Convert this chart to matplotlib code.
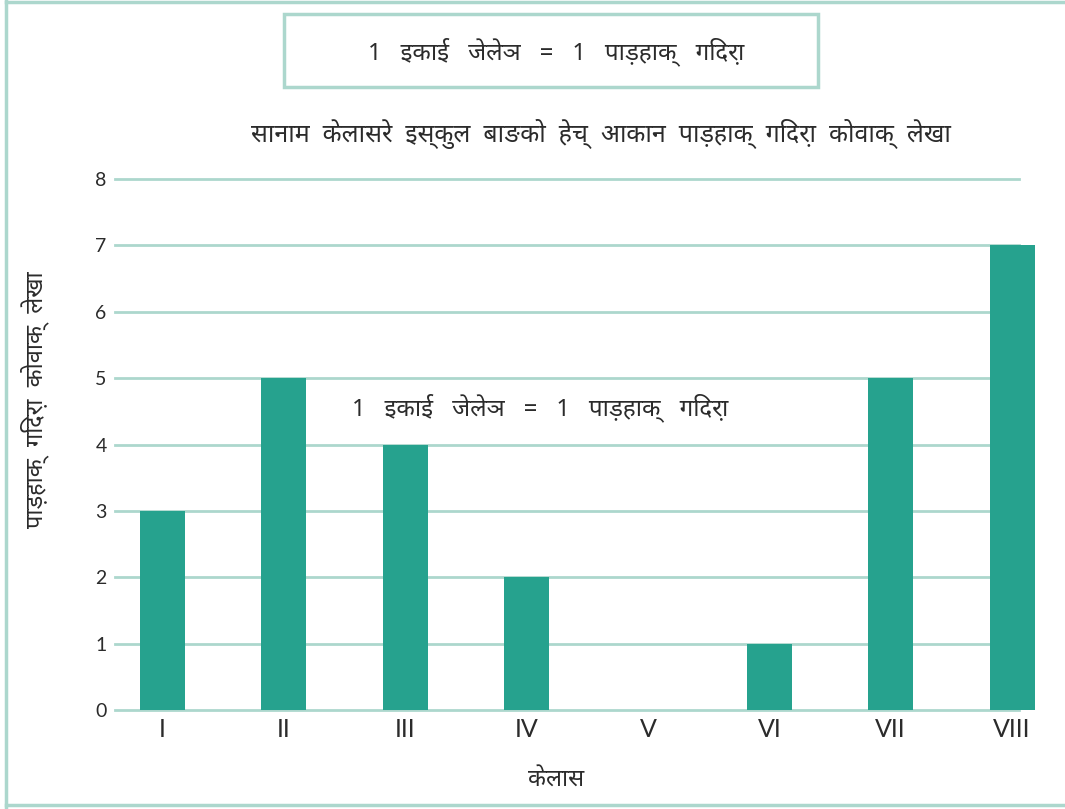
import numpy as np
import matplotlib
matplotlib.use("Agg")
import matplotlib.pyplot as plt
from matplotlib.patches import Rectangle
from matplotlib.lines import Line2D

classes = ["I", "II", "III", "IV", "V", "VI", "VII", "VIII"]
holes = [3, 5, 4, 2, 0, 1, 5, 7]
y_ticks = [0, 1, 2, 3, 4, 5, 6, 7, 8]

key_text = "1   इकाई   जेलेञ   =   1   पाड़हाक्   गिदरा़"
title_text = "सानाम  केलासरे  इस्कुल  बाङको  हेच्  आकान  पाड़हाक्  गिदरा़  कोवाक्  लेखा"
y_label = "पाड़हाक्  गिदरा़  कोवाक्  लेखा"
x_label = "केलास"

DEVA = ["Noto Sans Devanagari UI", "Lato", "DejaVu Sans"]
bar_color = "#26a28e"
line_color = "#acd7cd"
text_color = "#2b2b2b"

fig = plt.figure(figsize=(10.65, 8.09), dpi=100)

# page frame (left, top, bottom)
fig.add_artist(Line2D([0.006, 0.006], [0, 1], color=line_color, lw=2.5))
fig.add_artist(Line2D([0.006, 1], [0.998, 0.998], color=line_color, lw=2.5))
fig.add_artist(Line2D([0.006, 1], [0.005, 0.005], color=line_color, lw=2.5))

ax = fig.add_axes([0.108, 0.1224, 0.864, 0.6563])
ax.patch.set_alpha(0)

x = np.arange(len(classes))
ax.bar(x, holes, width=0.37, color=bar_color, zorder=3)

for v in y_ticks:
    ax.axhline(v, xmin=0, xmax=0.982, color=line_color, lw=2, zorder=1,
               clip_on=False)

ax.set_xlim(-0.39, 7.19)
ax.set_ylim(0, 8)
ax.set_yticks(y_ticks)
ax.set_xticks(x)
ax.set_xticklabels(classes, fontsize=18, color=text_color, family="Lato")
ax.set_yticklabels([str(v) for v in y_ticks], fontsize=14, color=text_color,
                   family="Lato")
ax.tick_params(axis="both", length=0)
ax.tick_params(axis="y", pad=6)
ax.tick_params(axis="x", pad=6)
for s in ax.spines.values():
    s.set_visible(False)

# key repeated inside the plot
fig.text(540 / 1065, 1 - 408 / 809, key_text, ha="center", va="center",
         fontsize=17.5, color=text_color, family=DEVA, zorder=5)

# key box at the top
fig.add_artist(Rectangle((284 / 1065, 1 - 87 / 809), 534 / 1065, 73 / 809,
                         transform=fig.transFigure, fill=False,
                         edgecolor=line_color, lw=2.5))
fig.text(556 / 1065, 1 - 52 / 809, key_text, ha="center", va="center",
         fontsize=17.5, color=text_color, family=DEVA)

fig.text(601 / 1065, 1 - 134 / 809, title_text, ha="center", va="center",
         fontsize=18, color=text_color, family=DEVA)

fig.text(35 / 1065, 1 - 400 / 809, y_label, rotation=90, ha="center",
         va="center", fontsize=17, color=text_color, family=DEVA)
fig.text(556 / 1065, 1 - 780 / 809, x_label, ha="center", va="center",
         fontsize=17, color=text_color, family=DEVA)

fig.savefig("out.png", dpi=100)
